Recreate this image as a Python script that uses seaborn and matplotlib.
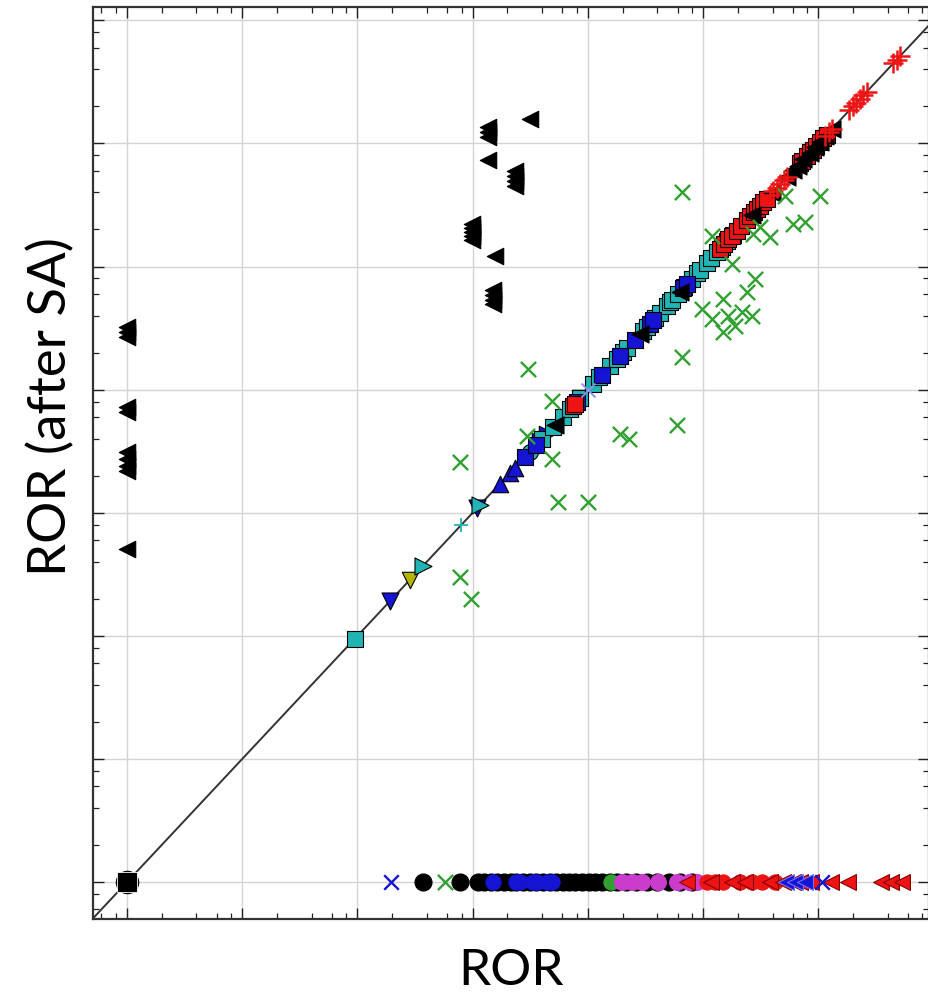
import numpy as np
import pandas as pd
import matplotlib
matplotlib.use("Agg")
import matplotlib.pyplot as plt
from matplotlib.ticker import LogLocator, NullFormatter
import seaborn as sns

# ---------------- data (log10 of ROR values) ----------------
FLOOR = -3.0  # value used for "zero" ROR on both axes

# black left triangles: off-diagonal (ROR, ROR after SA)
tri_black_x = [FLOOR]*10 + [0.495, 0.131, 0.131, 0.131, 0.131, 0.365, 0.365, 0.365, 0.365,
                            -0.008, -0.008, -0.008, -0.008, -0.008, 0.192, 0.174, 0.174, 0.174, 0.174]
tri_black_y = [1.509, 1.468, 1.427, 0.859, 0.818, 0.493, 0.436, 0.379, 0.339, -0.295,
               3.198, 3.133, 3.093, 3.052, 2.865, 2.776, 2.735, 2.695, 2.654,
               2.345, 2.313, 2.280, 2.248, 2.215, 2.085, 1.809, 1.769, 1.728, 1.695]

# green crosses (ROR, ROR after SA)
green_x = [1.813, 2.074, 2.247, 2.447, 2.377, 2.169, 1.987, 2.074, 2.169, 2.213, 2.273, 2.334,
           2.421, 1.813, 2.429, 2.490, 2.577, 2.707, 3.010, 2.776, 2.880, 0.478, 0.686, 0.469,
           0.686, -0.112, 0.738, 0.998, 1.276, 1.354, 1.770, -0.112, -0.017, -0.242]
green_y = [2.605, 2.248, 2.020, 1.898, 1.793, 1.736, 1.655, 1.574, 1.468, 1.598, 1.517, 1.630,
           1.598, 1.265, 2.264, 2.321, 2.240, 2.573, 2.573, 2.345, 2.361, 1.167, 0.907, 0.623,
           0.436, 0.412, 0.087, 0.087, 0.639, 0.599, 0.712, -0.522, -0.701, FLOOR]

# points unchanged by SA (on the diagonal): ROR values
diag_cyan_sq = [-1.023, 0.60, 0.70, 0.781, 0.842, 0.929, 1.042, 1.10, 1.189, 1.250,
                1.302, 1.337, 1.475, 1.510, 1.58, 1.623, 1.683, 1.709, 1.727, 1.78,
                1.83, 1.900, 1.944, 1.97, 2.030, 2.07, 2.117, 2.16, 2.204, 2.256]
diag_blue_sq = [0.45, 0.55, 0.903, 1.120, 1.276, 1.406, 1.536, 1.562, 1.822, 1.857]
diag_red_sq = [0.868, 0.886, 2.143, 2.18, 2.22, 2.25, 2.291, 2.33, 2.377, 2.41, 2.44, 2.47,
               2.490, 2.52, 2.551, 2.837, 2.86, 2.898, 2.93, 2.950, 2.98, 3.010, 3.04, 3.071]
diag_black_tri = [0.712, 1.449, 1.796, 2.420, 2.594, 2.724, 2.78, 2.820, 2.87, 2.924,
                  2.97, 3.010, 3.06, 3.114]
diag_red_plus = [2.58, 2.61, 2.64, 2.67, 2.70, 2.73, 3.06, 3.09, 3.12, 3.27, 3.30, 3.33, 3.36,
                 3.39, 3.42, 3.65, 3.68, 3.71]
diag_blue_down = [-0.719, 0.036]
diag_olive_down = [-0.546, 0.930]
diag_cyan_right = [-0.433, 0.062]
diag_cyan_plus = [-0.103, -1.023]
diag_blue_up = [0.235, 0.322, 0.365]
diag_cyan_up = [1.042]
diag_cyan_circle = [0.495]
diag_blue_right = [0.582, 0.643]
diag_blue_x = [1.000]

# points removed by SA (ROR after SA at the floor): ROR values
bot_black_circle = [-0.433, -0.112, 0.044, 0.10, 0.16, 0.21, 0.27, 0.33, 0.38, 0.44, 0.50, 0.55,
                    0.61, 0.67, 0.72, 0.78, 0.84, 0.89, 0.95, 1.01, 1.06, 1.12, 1.19, 1.25,
                    1.33, 1.42, 1.51, 1.60, 1.70, 1.80, 1.90]
bot_blue_circle = [0.174, 0.374, 0.408, 0.521, 0.556, 0.643, 0.686]
bot_green_circle = [1.198]
bot_magenta_circle = [1.293, 1.380, 1.467, 1.605, 1.770, 1.874, 1.944]
bot_red_circle = [2.030, 2.100, 2.169, 2.317, 2.421, 2.507, 2.620]
bot_red_tri = [1.857, 2.065, 2.247, 2.360, 2.577, 2.690, 2.776, 2.837, 2.932,
               3.106, 3.253, 3.540, 3.626, 3.722]
bot_blue_tri = [2.716, 2.800, 2.880]
bot_blue_x = [-0.710, 3.028]
origin_black = [FLOOR]

# ---------------- styling ----------------
sns.set_theme(style="whitegrid")
plt.rcParams['font.family'] = ['Lato', 'DejaVu Sans']

fig = plt.figure(figsize=(9.29, 9.95), dpi=100)
ax = fig.add_axes([93/929, 75/995, 836/929, 912/995])
ax.set_xscale('log')
ax.set_yscale('log')

BLUE = '#1414d2'
CYAN = '#22b4b4'
GREEN = '#30a030'
RED = '#ee1414'
MAG = '#cc3ccc'
OLIVE = '#b4b400'


def p10(v):
    return np.power(10.0, np.asarray(v, dtype=float))


def sc(xv, yv, marker, color, s, edge='black', lw=0.8, z=3):
    df = pd.DataFrame({'ROR': p10(xv), 'SA': p10(yv)})
    kw = dict(data=df, x='ROR', y='SA', ax=ax, marker=marker, s=s, zorder=z, legend=False)
    if marker in ('x', '+'):
        sns.scatterplot(color=color, linewidth=lw, **kw)
    else:
        sns.scatterplot(color=color, edgecolor=edge, linewidth=lw, **kw)


def diag(v, marker, color, s, edge='black', lw=0.8, z=3):
    sc(v, v, marker, color, s, edge, lw, z)


def bottom(v, marker, color, s, edge=None, lw=0.8, z=3):
    sc(v, [FLOOR]*len(v), marker, color, s, edge if edge else color, lw, z)


# reference line y = x
ax.axline((1.0, 1.0), (10.0, 10.0), color='#333333', lw=1.4, zorder=2)

# bottom row
bottom(bot_black_circle, 'o', 'black', 150)
bottom(bot_blue_circle, 'o', BLUE, 120)
bottom(bot_green_circle, 'o', GREEN, 120)
bottom(bot_magenta_circle, 'o', MAG, 130)
bottom(bot_red_circle, 'o', RED, 120)
bottom(bot_red_tri, '<', RED, 130, edge='#880000')
bottom(bot_blue_tri, '<', BLUE, 130, edge='#7070ff')
bottom(bot_blue_x, 'x', BLUE, 110, lw=1.7)
sc(origin_black, origin_black, 'o', 'black', 260, edge='black')
sc(origin_black, origin_black, 's', 'black', 190, edge='white', lw=0.6)

# diagonal
diag(diag_cyan_plus, '+', CYAN, 100, lw=1.3)
diag(diag_blue_down, 'v', BLUE, 150)
diag(diag_olive_down, 'v', OLIVE, 140)
diag(diag_cyan_right, '>', CYAN, 150)
diag(diag_blue_up, '^', BLUE, 140)
diag(diag_cyan_circle, 'o', CYAN, 130)
diag(diag_blue_right, '>', BLUE, 140)
diag(diag_cyan_up, '^', CYAN, 130)
diag(diag_cyan_sq, 's', CYAN, 120)
diag(diag_blue_sq, 's', BLUE, 120)
diag(diag_red_sq, 's', RED, 120)
diag(diag_black_tri, '<', 'black', 150)
diag(diag_red_plus, '+', RED, 200, lw=1.8)
diag(diag_blue_x, 'x', '#9090ee', 100, lw=1.4)

# scattered
sc(green_x, green_y, 'x', GREEN, 120, lw=1.7)
sc(tri_black_x, tri_black_y, '<', 'black', 140)

# axes
ax.set_xlim(10**-3.295, 10**3.96)
ax.set_ylim(10**-3.30, 10**4.108)
for axis in (ax.xaxis, ax.yaxis):
    axis.set_major_locator(LogLocator(base=10, numticks=20))
    axis.set_minor_locator(LogLocator(base=10, subs=[2, 4, 6, 8], numticks=20))
    axis.set_major_formatter(NullFormatter())
    axis.set_minor_formatter(NullFormatter())
ax.tick_params(which='both', direction='in', top=True, right=True, bottom=True, left=True,
               color='#222222')
ax.tick_params(which='major', length=8, width=1.0)
ax.tick_params(which='minor', length=4.5, width=0.9)
ax.grid(True, which='major', color='#d4d4d4', lw=1.0)
ax.grid(False, which='minor')
for sp in ax.spines.values():
    sp.set_color('#333333')
    sp.set_linewidth(1.6)

ax.set_xlabel('ROR', fontsize=37, color='black')
ax.set_ylabel('ROR (after SA)', fontsize=38, color='black')
ax.xaxis.label.set_va('baseline')
ax.xaxis.set_label_coords(0.5, -0.0715)
ax.yaxis.label.set_va('baseline')
ax.yaxis.set_label_coords(-0.032, 0.5625)

fig.savefig('out.png', dpi=100)
